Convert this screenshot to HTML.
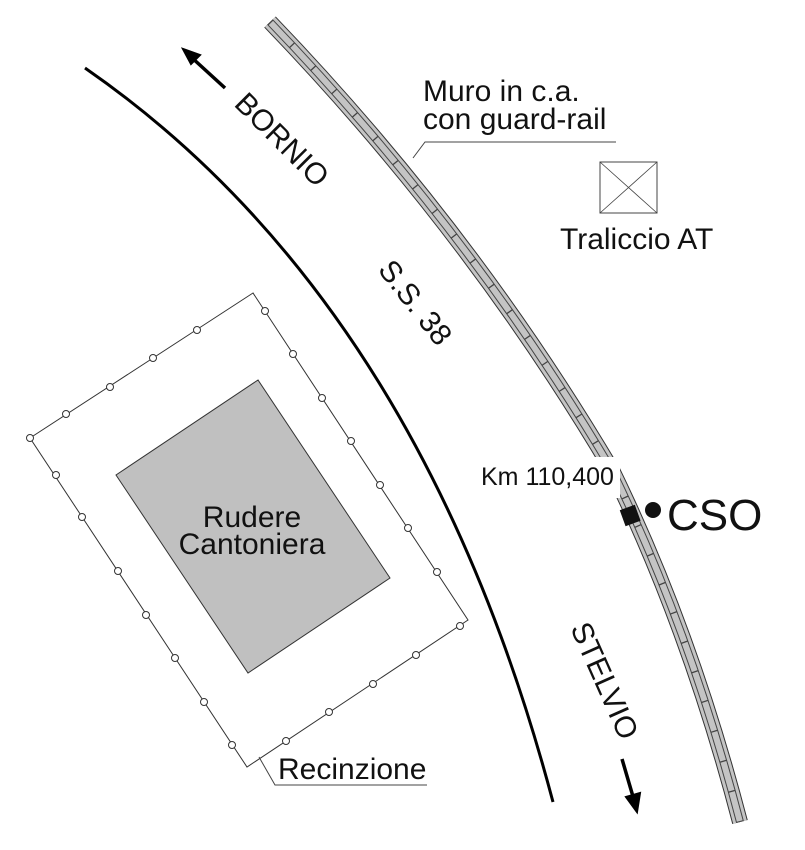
<!DOCTYPE html>
<html><head><meta charset="utf-8"><style>
html,body{margin:0;padding:0;background:#fff;}
svg{display:block;}
text{font-family:"Liberation Sans",Arial,sans-serif;fill:#111;}
</style></head><body>
<svg width="805" height="850" viewBox="0 0 805 850" xmlns="http://www.w3.org/2000/svg">
<path d="M85,68 Q420,300 553,802" fill="none" stroke="#000" stroke-width="3"/>
<g fill="none">
<path d="M270,22 Q470,230 612,470 Q690,630 740,822" stroke="#333" stroke-width="16"/>
<path d="M270,22 Q470,230 612,470 Q690,630 740,822" stroke="#c4c4c4" stroke-width="14"/>
<path d="M270,22 Q470,230 612,470 Q690,630 740,822" stroke="#444" stroke-width="8"/>
<path d="M270,22 Q470,230 612,470 Q690,630 740,822" stroke="#c4c4c4" stroke-width="6"/>
<path d="M270,22 Q470,230 612,470 Q690,630 740,822" stroke="#444" stroke-width="7" stroke-dasharray="1.3 30"/>
</g>
<rect x="470" y="457" width="150" height="41" fill="#fff"/>
<rect x="622" y="507" width="16" height="17" fill="#111" transform="rotate(-20 630 515)"/>
<circle cx="653" cy="510" r="8" fill="#111"/>
<polygon points="253,293 30,438 247,767 468,620" fill="none" stroke="#333" stroke-width="1"/>
<g fill="#fff" stroke="#333" stroke-width="1">
<circle cx="30" cy="438" r="3.5"/><circle cx="66" cy="414" r="3.5"/><circle cx="110" cy="387" r="3.5"/><circle cx="153" cy="358" r="3.5"/><circle cx="197" cy="330" r="3.5"/>
<circle cx="265" cy="311" r="3.5"/><circle cx="293" cy="354" r="3.5"/><circle cx="322" cy="398" r="3.5"/><circle cx="351" cy="441" r="3.5"/><circle cx="380" cy="485" r="3.5"/><circle cx="408" cy="528" r="3.5"/><circle cx="437" cy="572" r="3.5"/><circle cx="460" cy="626" r="3.5"/>
<circle cx="416" cy="655" r="3.5"/><circle cx="373" cy="684" r="3.5"/><circle cx="329" cy="712" r="3.5"/><circle cx="286" cy="741" r="3.5"/>
<circle cx="232" cy="745" r="3.5"/><circle cx="204" cy="702" r="3.5"/><circle cx="175" cy="658" r="3.5"/><circle cx="146" cy="615" r="3.5"/><circle cx="118" cy="571" r="3.5"/><circle cx="82" cy="517" r="3.5"/><circle cx="56" cy="475" r="3.5"/>
</g>
<polygon points="258,380 116,475 248,673 390,578" fill="#c0c0c0" stroke="#333" stroke-width="1"/>
<text x="252" y="527" font-size="30" text-anchor="middle">Rudere</text>
<text x="252" y="554" font-size="30" text-anchor="middle">Cantoniera</text>
<rect x="600" y="162" width="57" height="51" fill="none" stroke="#444" stroke-width="1"/>
<path d="M600,162 L657,213 M657,162 L600,213" stroke="#444" stroke-width="0.8"/>
<text x="560" y="249" font-size="30">Traliccio AT</text>
<text x="423" y="101" font-size="30">Muro in c.a.</text>
<text x="423" y="129" font-size="30">con guard-rail</text>
<path d="M413,158 L425,142 L616,142" fill="none" stroke="#444" stroke-width="1"/>
<text x="481" y="485" font-size="25">Km 110,400</text>
<text x="667" y="530" font-size="44">CSO</text>
<text x="278" y="779" font-size="30">Recinzione</text>
<path d="M259,757 L275,785 L427,785" fill="none" stroke="#444" stroke-width="1"/>
<text transform="translate(233,105) rotate(45)" font-size="30">BORNIO</text>
<path d="M225,88 L190,56" stroke="#000" stroke-width="3.5"/>
<path d="M183,49 L200,55 L191,64 Z" fill="#000" stroke="#000" stroke-width="2"/>
<text transform="translate(377,270) rotate(52)" font-size="30">S.S. 38</text>
<text transform="translate(570,628) rotate(66)" font-size="30">STELVIO</text>
<path d="M622,759 L634,800" stroke="#000" stroke-width="3.5"/>
<path d="M637,812 L626,797 L640,793 Z" fill="#000" stroke="#000" stroke-width="2"/>
</svg>
</body></html>
